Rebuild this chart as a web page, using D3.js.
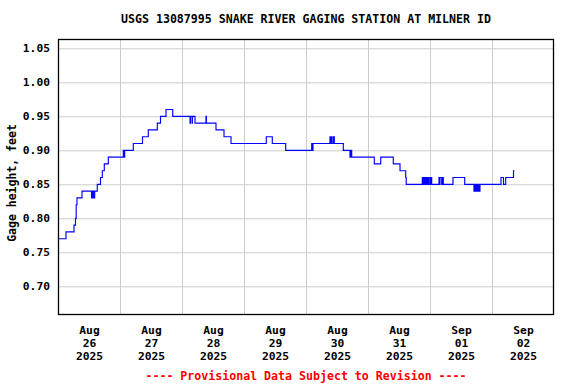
<!DOCTYPE html>
<html>
<head>
<meta charset="utf-8">
<script src="https://cdn.jsdelivr.net/npm/d3@7"></script>
<style>
  html, body { margin: 0; padding: 0; background: #ffffff; }
  svg { display: block; }
  text { font-family: "DejaVu Sans Mono", "Liberation Mono", monospace; font-weight: bold; }
</style>
</head>
<body>
<svg id="chart" width="576" height="384"></svg>
<script>
// ---- Data ----
const titleText = "USGS 13087995 SNAKE RIVER GAGING STATION AT MILNER ID";
const yLabelText = "Gage height, feet";
const footerText = "---- Provisional Data Subject to Revision ----";

// hours since 2025-08-26 00:00 at which the gage height changes
const hours = [
  0.00, 3.10, 6.19, 6.77, 7.05, 7.35, 9.29, 12.97, 13.16, 13.35, 13.55, 13.66, 13.82, 13.94, 14.21,
  15.21, 16.45, 17.15, 17.92, 19.47, 25.28, 25.55, 25.82, 29.15, 32.71, 34.95, 38.44, 39.68, 41.81,
  44.40, 51.10, 51.25, 51.90, 52.05, 53.03, 57.29, 57.45, 61.16, 64.26, 66.97, 80.63,
  82.95, 88.14, 98.21, 98.44, 98.71, 105.29, 105.56, 105.68, 105.95, 106.50, 106.96,
  110.44, 113.03, 113.23, 113.42, 113.54, 113.69, 122.44, 124.92, 129.79, 132.39, 134.59, 134.79,
  141.02, 141.29, 141.48, 141.79, 141.95, 142.34, 142.72, 142.95, 143.15, 143.50, 144.00, 144.19,
  144.39, 144.66, 147.48, 147.68, 147.87, 148.53, 148.76, 149.15, 152.90, 157.43, 161.03, 161.30,
  161.54, 161.81, 161.92, 162.19, 162.39, 162.85, 163.08, 163.35, 171.48, 172.45, 173.30, 176.32,
  176.71
];
const gage = [
  0.77, 0.78, 0.79, 0.80, 0.82, 0.83, 0.84, 0.83, 0.84, 0.83, 0.84, 0.83, 0.84, 0.83, 0.84,
  0.85, 0.86, 0.87, 0.88, 0.89, 0.90, 0.89, 0.90, 0.91, 0.92, 0.93, 0.94, 0.95, 0.96,
  0.95, 0.94, 0.95, 0.94, 0.95, 0.94, 0.95, 0.94, 0.93, 0.92, 0.91, 0.92,
  0.91, 0.90, 0.91, 0.90, 0.91, 0.92, 0.91, 0.92, 0.91, 0.92, 0.91,
  0.90, 0.89, 0.90, 0.89, 0.90, 0.89, 0.88, 0.89, 0.88, 0.87, 0.86, 0.85,
  0.86, 0.85, 0.86, 0.85, 0.86, 0.85, 0.86, 0.85, 0.86, 0.85, 0.86, 0.85,
  0.86, 0.85, 0.86, 0.85, 0.86, 0.85, 0.86, 0.85, 0.86, 0.85, 0.84, 0.85,
  0.84, 0.85, 0.84, 0.85, 0.84, 0.85, 0.84, 0.85, 0.86, 0.85, 0.86, 0.87,
  0.87
];

const yTicks = [0.70, 0.75, 0.80, 0.85, 0.90, 0.95, 1.00, 1.05];
const tickMonths = ["Aug", "Aug", "Aug", "Aug", "Aug", "Aug", "Sep", "Sep"];
const tickDays   = ["26", "27", "28", "29", "30", "31", "01", "02"];
const tickYears  = ["2025", "2025", "2025", "2025", "2025", "2025", "2025", "2025"];

// ---- Layout ----
const W = 576, H = 384;
const margin = { left: 58, right: 22, top: 39, bottom: 69 };
const pw = W - margin.left - margin.right;
const ph = H - margin.top - margin.bottom;

const start = Date.UTC(2025, 7, 26, 0, 0);
const hourMs = 3600 * 1000;
const toDate = h => new Date(start + h * hourMs);

const x = d3.scaleUtc()
  .domain([toDate(0), toDate(8 * 24)])
  .range([margin.left, margin.left + pw]);
const y = d3.scaleLinear()
  .domain([0.6578, 1.0637])
  .range([margin.top + ph, margin.top]);

const svg = d3.select("#chart");
svg.append("rect").attr("width", W).attr("height", H).attr("fill", "#fff");

// gridlines (horizontal)
const yGrid = svg.append("g")
  .attr("transform", `translate(${margin.left},0)`)
  .call(d3.axisLeft(y).tickValues(yTicks).tickSize(-pw).tickFormat(""));
yGrid.select(".domain").remove();
yGrid.selectAll("line").attr("stroke", "#cccccc").attr("stroke-width", 1);

// gridlines (vertical, at midnights)
const midnights = d3.range(1, 8).map(d => toDate(d * 24));
const xGrid = svg.append("g")
  .attr("transform", `translate(0,${margin.top + ph})`)
  .call(d3.axisBottom(x).tickValues(midnights).tickSize(-ph).tickFormat(""));
xGrid.select(".domain").remove();
xGrid.selectAll("line").attr("stroke", "#cccccc").attr("stroke-width", 1);

// data line
const pts = hours.map((h, i) => [toDate(h), gage[i]]);
svg.append("path")
  .datum(pts)
  .attr("fill", "none")
  .attr("stroke", "#0000ff")
  .attr("stroke-width", 1.15)
  .attr("d", d3.line().x(d => x(d[0])).y(d => y(d[1])).curve(d3.curveStepAfter));

// plot frame
svg.append("rect")
  .attr("x", margin.left + 0.5).attr("y", margin.top + 0.5)
  .attr("width", pw - 1).attr("height", ph - 1)
  .attr("fill", "none").attr("stroke", "#000").attr("stroke-width", 1.3);

// y tick labels
const yAx = svg.append("g")
  .attr("transform", `translate(${margin.left},0)`)
  .call(d3.axisLeft(y).tickValues(yTicks).tickSize(0).tickPadding(8).tickFormat(d3.format(".2f")));
yAx.select(".domain").remove();
yAx.selectAll("text")
  .attr("font-family", "DejaVu Sans Mono, monospace")
  .attr("font-weight", "bold")
  .attr("font-size", 11.3)
  .attr("fill", "#000");

// x tick labels (noon of each day), three lines each
const noons = d3.range(0, 8).map(d => toDate(d * 24 + 12));
const xAx = svg.append("g")
  .attr("transform", `translate(0,${margin.top + ph})`)
  .call(d3.axisBottom(x).tickValues(noons).tickSize(0).tickFormat(""));
xAx.select(".domain").remove();
xAx.selectAll(".tick text").each(function(d, i) {
  const t = d3.select(this)
    .attr("y", 0).attr("dy", null)
    .attr("font-family", "DejaVu Sans Mono, monospace")
    .attr("font-weight", "bold")
    .attr("font-size", 11.3)
    .attr("fill", "#000")
    .attr("text-anchor", "middle");
  [tickMonths[i], tickDays[i], tickYears[i]].forEach((s, k) => {
    t.append("tspan").attr("x", 0).attr("y", 19 + k * 13).text(s);
  });
});

// title
svg.append("text")
  .attr("x", margin.left + pw / 2).attr("y", 23)
  .attr("text-anchor", "middle")
  .attr("font-size", 11.6)
  .attr("fill", "#000")
  .text(titleText);

// y axis label
svg.append("text")
  .attr("transform", `translate(16,183) rotate(-90)`)
  .attr("text-anchor", "middle")
  .attr("font-size", 11.5)
  .attr("fill", "#000")
  .text(yLabelText);

// footer
svg.append("text")
  .attr("x", margin.left + pw / 2).attr("y", 380)
  .attr("text-anchor", "middle")
  .attr("font-size", 11.6)
  .attr("fill", "#ff0000")
  .text(footerText);
</script>
</body>
</html>
